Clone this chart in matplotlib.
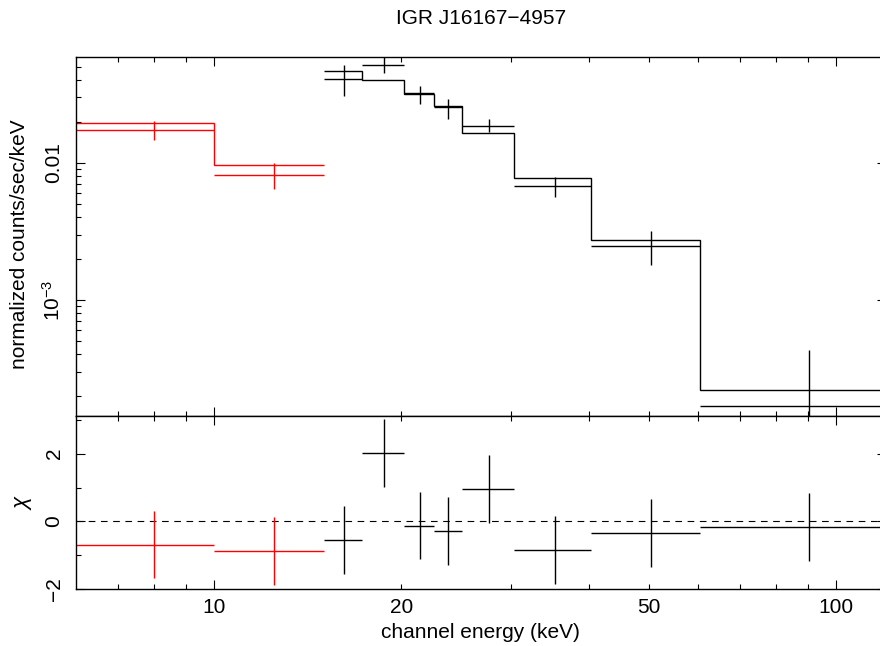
import matplotlib
matplotlib.use("Agg")
import matplotlib.pyplot as plt
from matplotlib.ticker import FixedLocator, FuncFormatter, LogLocator, NullFormatter

plt.rcParams["font.family"] = ["Liberation Sans", "DejaVu Sans"]
plt.rcParams["mathtext.fontset"] = "custom"
plt.rcParams["mathtext.rm"] = "Liberation Sans"
plt.rcParams["mathtext.it"] = "Liberation Sans:italic"

# red spectrum (low energy instrument)
red_lo = [6.0, 10.0]
red_hi = [10.0, 15.0]
red_e = [8.0, 12.5]
red_rate = [0.0175, 0.00813]
red_rate_lo = [0.0146, 0.0064]
red_rate_hi = [0.0201, 0.0099]
red_model = [0.0194, 0.0096]
red_chi = [-0.68, -0.86]

# black spectrum (high energy instrument)
black_lo = [15.0, 17.3, 20.2, 22.6, 25.0, 30.3, 40.3, 60.4]
black_hi = [17.3, 20.2, 22.6, 25.0, 30.3, 40.3, 60.4, 120.0]
black_e = [16.15, 18.75, 21.4, 23.8, 27.65, 35.3, 50.35, 90.2]
black_rate = [0.0412, 0.0515, 0.0321, 0.0256, 0.0187, 0.00676, 0.00249, 1.67e-4]
black_rate_lo = [0.0308, 0.0455, 0.0271, 0.0210, 0.0168, 0.00565, 0.00180, 1e-5]
black_rate_hi = [0.0521, 0.0591, 0.0362, 0.0290, 0.0210, 0.0079, 0.00319, 4.33e-4]
black_model = [0.0468, 0.0404, 0.0320, 0.0260, 0.0166, 0.00769, 0.00274, 2.21e-4]
black_chi = [-0.54, 2.02, -0.12, -0.27, 0.96, -0.83, -0.35, -0.17]

x_major = [10, 100]
x_minor = [7, 8, 9, 20, 30, 40, 50, 60, 70, 80, 90]
x_minor_labels = {20: "20", 50: "50"}
y_labels = {1e-3: "$10^{-3}$", 1e-2: "0.01"}

FS = 15


def xerr(e, lo, hi):
    return [[a - b for a, b in zip(e, lo)], [b - a for a, b in zip(e, hi)]]


def yerr(v, lo, hi):
    return [[a - b for a, b in zip(v, lo)], [b - a for a, b in zip(v, hi)]]


def style(ax):
    ax.set_xscale("log")
    ax.set_xlim(6, 120)
    ax.xaxis.set_major_locator(FixedLocator(x_major))
    ax.xaxis.set_minor_locator(FixedLocator(x_minor))
    ax.tick_params(which="both", direction="in", top=True, right=True,
                   width=0.8, labelsize=FS, pad=6)
    ax.tick_params(which="major", length=6.5)
    ax.tick_params(which="minor", length=3.6)
    for s in ax.spines.values():
        s.set_linewidth(1.0)


fig = plt.figure(figsize=(8.8, 6.46), dpi=100)
left, width = 76 / 880, (885.7 - 76) / 880
ax1 = fig.add_axes([left, 1 - 415.7 / 646, width, (415.7 - 57.3) / 646])
ax2 = fig.add_axes([left, 1 - 589.3 / 646, width, (589.3 - 415.7) / 646])

# spectrum panel
ax1.stairs(red_model, red_lo + [red_hi[-1]], baseline=None, color="red", lw=1)
ax1.stairs(black_model, black_lo + [black_hi[-1]], baseline=None, color="black", lw=1)
ax1.errorbar(red_e, red_rate, xerr=xerr(red_e, red_lo, red_hi),
             yerr=yerr(red_rate, red_rate_lo, red_rate_hi),
             fmt="none", ecolor="red", elinewidth=1, capsize=0)
ax1.errorbar(black_e, black_rate, xerr=xerr(black_e, black_lo, black_hi),
             yerr=yerr(black_rate, black_rate_lo, black_rate_hi),
             fmt="none", ecolor="black", elinewidth=1, capsize=0)
style(ax1)
ax1.set_yscale("log")
ax1.set_ylim(1.43e-4, 0.0589)
ax1.yaxis.set_major_locator(FixedLocator(list(y_labels)))
ax1.yaxis.set_minor_locator(LogLocator(subs=range(2, 10)))
ax1.yaxis.set_major_formatter(FuncFormatter(lambda v, p: y_labels.get(v, "")))
ax1.yaxis.set_minor_formatter(NullFormatter())
ax1.tick_params(labelbottom=False)
ax1.tick_params(axis="y", labelrotation=90, pad=9)
for lab in ax1.get_yticklabels():
    lab.set_va("center")

# residual panel
ax2.axhline(0, color="black", lw=0.8, ls=(0, (6, 5)))
ax2.errorbar(red_e, red_chi, xerr=xerr(red_e, red_lo, red_hi), yerr=1,
             fmt="none", ecolor="red", elinewidth=1, capsize=0)
ax2.errorbar(black_e, black_chi, xerr=xerr(black_e, black_lo, black_hi), yerr=1,
             fmt="none", ecolor="black", elinewidth=1, capsize=0)
style(ax2)
ax2.set_ylim(-2, 3.12)
ax2.yaxis.set_major_locator(FixedLocator([-2, 0, 2]))
ax2.yaxis.set_minor_locator(FixedLocator([-1, 1, 3]))
ax2.xaxis.set_major_formatter(FuncFormatter(lambda v, p: f"{v:g}"))
ax2.xaxis.set_minor_formatter(FuncFormatter(lambda v, p: x_minor_labels.get(round(v), "")))
ax2.tick_params(axis="y", labelrotation=90, pad=9)
for lab in ax2.get_yticklabels():
    lab.set_va("center")

xc = left + width / 2
fig.text(xc, 1 - 18 / 646, "IGR J16167\u22124957", ha="center", va="center", fontsize=FS)
fig.text(xc, 1 - 632 / 646, "channel energy (keV)", ha="center", va="center", fontsize=FS)
fig.text(20 / 880, 1 - 244 / 646, "normalized counts/sec/keV", rotation=90,
         ha="center", va="center", fontsize=FS)
fig.text(24 / 880, 1 - 502 / 646, r"$\chi$", rotation=90, ha="center", va="center",
         fontsize=FS + 1)

fig.savefig("out.png", dpi=100)
